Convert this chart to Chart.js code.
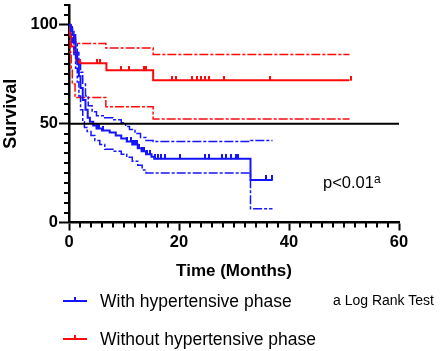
<!DOCTYPE html>
<html>
<head>
<meta charset="utf-8">
<script src="https://cdn.jsdelivr.net/npm/chart.js@4.4.1/dist/chart.umd.min.js"></script>
<style>
    body { margin: 0; background: #fff; }
    #wrap { position: relative; width: 440px; height: 351px; font-family: 'Liberation Sans', Arial, sans-serif; color: #000; }
    #km { position: absolute; left: 0; top: 0; }
    .note { position: absolute; white-space: nowrap; }
    .pval { left: 323px; top: 169px; font-size: 16.5px; line-height: 20px; }
    .pval span { font-size: 12px; vertical-align: 5px; }
    .test { left: 333px; top: 292px; font-size: 14px; line-height: 16px; }
    .key { position: absolute; left: 100px; font-size: 17.5px; line-height: 20px; white-space: nowrap; }
    .swatch { position: absolute; left: -37px; top: 9px; width: 24px; height: 2px; }
    .swatch::after { content: ''; position: absolute; left: 11px; top: -3px; width: 2px; height: 4px; background: inherit; }
</style>
</head>
<body>
<div id="wrap">
    <canvas id="km" width="440" height="351"></canvas>
    <div class="note pval">p&lt;0.01<span>a</span></div>
    <div class="note test">a Log Rank Test</div>
    <div class="key" style="top: 291px;"><i class="swatch" style="background: rgb(20, 20, 255);"></i>With hypertensive phase</div>
    <div class="key" style="top: 329px;"><i class="swatch" style="background: rgb(255, 10, 10);"></i>Without hypertensive phase</div>
</div>
<script>
// Kaplan-Meier steps as [months, survival %]
const withHpt = [
    [0, 100], [0.3, 98], [0.6, 95], [0.9, 91], [1.2, 86], [1.5, 80], [1.8, 74], [2.1, 68],
    [2.5, 62], [3.0, 57], [3.4, 53], [3.8, 51], [4.4, 49], [5.0, 47.5], [6.0, 46.5],
    [7.4, 45.5], [8.5, 44], [9.5, 42.5], [10.5, 41], [11.5, 39.5], [12.5, 37.5],
    [13.2, 36], [14, 34.5], [15, 33.3], [15.5, 32.3], [33, 21.5], [37, 21.5]
];
const withHptUpper = [
    [0, 100], [0.3, 99], [0.6, 97.5], [0.9, 95], [1.2, 91], [1.5, 86], [1.8, 81], [2.1, 76],
    [2.5, 70], [3.0, 64], [3.5, 59], [4.2, 56], [5.0, 54], [6.5, 53], [8, 52], [9.5, 50.5],
    [10.3, 48.5], [11, 47], [12, 45], [13, 43], [14, 41.5], [15.3, 41], [33, 41.5], [37, 41.5]
];
const withHptLower = [
    [0, 100], [0.3, 96], [0.6, 91], [0.9, 85], [1.2, 78], [1.5, 71], [1.8, 64], [2.1, 57],
    [2.5, 51], [2.8, 48], [3.3, 46], [4.0, 44], [4.7, 41.5], [5.6, 39.5], [6.5, 37], [8, 36],
    [9.5, 34.5], [10.5, 33], [11.5, 31], [12.5, 29], [13.3, 26.5], [14, 25], [33, 7], [37, 7]
];
const withHptCensored = [
    5.0, 5.5, 6.2, 10.6, 11.2, 11.6, 12.0, 12.4, 12.8, 13.2, 13.6, 14.2, 14.8, 15.6, 16.2,
    16.8, 17.4, 20.1, 24.7, 25.4, 27.8, 28.6, 29.5, 30.3, 30.8, 35.8, 36.9
];

const withoutHpt = [
    [0, 100], [0.2, 95], [0.4, 89], [0.9, 86], [1.3, 82], [1.8, 80.5], [6.8, 77], [15.3, 72], [51, 72]
];
const withoutHptUpper = [
    [0, 100], [0.3, 97], [0.7, 93], [1.2, 90.5], [6.7, 88.2], [15.3, 85], [51, 85]
];
const withoutHptLower = [
    [0, 100], [0.2, 86], [0.4, 78], [0.6, 70], [1.1, 63.2], [6.7, 58.5], [15.3, 52.3], [51, 52.3]
];
const withoutHptCensored = [
    2.0, 5.0, 5.6, 9.4, 10.9, 13.6, 14.0, 18.8, 19.5, 22.4, 23.2, 24.0, 24.8, 25.5, 28.1, 36.5, 51.2
];

const medianLine = [[0, 50], [60, 50]];

const BLUE = 'rgb(20, 20, 255)';
const RED = 'rgb(255, 10, 10)';
const FONT = "'Liberation Sans', Arial, sans-serif";

function toPoints (steps) {
    return steps.map(one => ({ x: one[0], y: one[1] }));
}

// survival value of a step curve at a given time
function survivalAt (steps, t) {
    let value = steps[0][1];
    steps.forEach(one => {
        if (one[0] <= t) {
            value = one[1];
        }
    });
    return value;
}

function censorPoints (steps, times) {
    return times.map(t => ({ x: t, y: survivalAt(steps, t) }));
}

// small upward tick used as the censor mark
function makeTick (color) {
    const c = document.createElement('canvas');
    c.width = 2;
    c.height = 9;
    const ctx = c.getContext('2d');
    ctx.fillStyle = color;
    ctx.fillRect(0, 0, 2, 5);
    return c;
}

function stepLine (steps, color, width, dash) {
    return {
        data: toPoints(steps),
        borderColor: color,
        borderWidth: width,
        borderDash: dash || [],
        stepped: true,
        pointRadius: 0,
        fill: false
    };
}

function censorSet (steps, times, color) {
    return {
        data: censorPoints(steps, times),
        showLine: false,
        pointStyle: makeTick(color),
        pointRadius: 4,
        borderColor: color
    };
}

const minorTicks = {
    id: 'minorTicks',
    afterDraw (chart) {
        const { ctx, scales: { x, y } } = chart;
        ctx.save();
        ctx.strokeStyle = '#000';
        ctx.lineWidth = 2;
        ctx.beginPath();
        for (let v = 5; v <= 110; v += 5) {
            if (v % 50 === 0) continue;
            const py = Math.round(y.getPixelForValue(v));
            ctx.moveTo(x.left - 5, py);
            ctx.lineTo(x.left, py);
        }
        for (let v = 2; v < 60; v += 2) {
            if (v % 20 === 0) continue;
            const px = Math.round(x.getPixelForValue(v));
            ctx.moveTo(px, y.bottom);
            ctx.lineTo(px, y.bottom + 5);
        }
        ctx.stroke();
        ctx.restore();
    }
};

const dash = [9, 2, 3, 2];

new Chart(document.getElementById('km'), {
    type: 'line',
    data: {
        datasets: [
            { data: toPoints(medianLine), borderColor: '#000', borderWidth: 2, pointRadius: 0 },
            censorSet(withHpt, withHptCensored, BLUE),
            censorSet(withoutHpt, withoutHptCensored, RED),
            stepLine(withHpt, BLUE, 2),
            stepLine(withHptUpper, BLUE, 1.5, dash),
            stepLine(withHptLower, BLUE, 1.5, dash),
            stepLine(withoutHpt, RED, 2),
            stepLine(withoutHptUpper, RED, 1.5, dash),
            stepLine(withoutHptLower, RED, 1.5, dash)
        ]
    },
    options: {
        responsive: false,
        animation: false,
        layout: { padding: { top: 2, right: 41, bottom: 69.5, left: 0 } },
        plugins: {
            legend: { display: false },
            tooltip: { enabled: false }
        },
        scales: {
            x: {
                type: 'linear',
                min: 0,
                max: 60,
                border: { color: '#000', width: 2.5 },
                grid: { drawOnChartArea: false, tickLength: 8, tickWidth: 2, tickColor: '#000' },
                ticks: {
                    stepSize: 20,
                    padding: 2,
                    color: '#000',
                    maxRotation: 0,
                    font: { family: FONT, size: 16.5, weight: 'bold' }
                },
                title: {
                    display: true,
                    text: 'Time (Months)',
                    color: '#000',
                    padding: { top: 4, bottom: 0 },
                    font: { family: FONT, size: 17, weight: 'bold' }
                },
                afterFit: scale => {
                    scale.height = 59;
                    scale.paddingLeft = 0;
                    scale.paddingRight = 0;
                }
            },
            y: {
                min: 0,
                max: 110,
                border: { color: '#000', width: 2.5 },
                grid: { drawOnChartArea: false, tickLength: 10, tickWidth: 2, tickColor: '#000' },
                ticks: {
                    stepSize: 50,
                    includeBounds: false,
                    padding: 1,
                    color: '#000',
                    font: { family: FONT, size: 16.5, weight: 'bold' }
                },
                title: {
                    display: true,
                    text: 'Survival',
                    color: '#000',
                    padding: { top: 0, bottom: 0 },
                    font: { family: FONT, size: 18, weight: 'bold' }
                },
                afterFit: scale => {
                    scale.width = 69;
                    scale.paddingTop = 0;
                    scale.paddingBottom = 0;
                }
            }
        }
    },
    plugins: [minorTicks]
});
</script>
</body>
</html>
